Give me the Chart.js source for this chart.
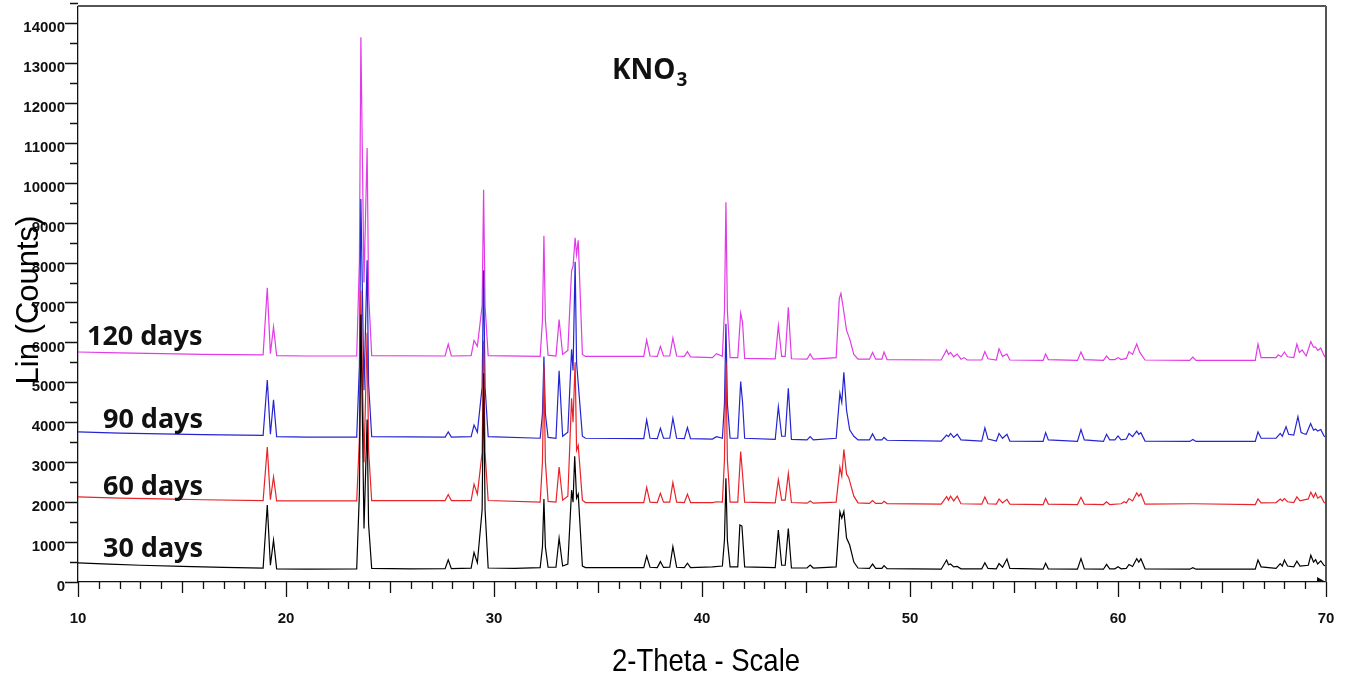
<!DOCTYPE html>
<html>
<head>
<meta charset="utf-8">
<title>KNO3 XRD</title>
<script src="https://cdn.jsdelivr.net/npm/chart.js@4.4.1/dist/chart.umd.min.js"></script>
<style>
  html, body { margin: 0; padding: 0; background: #fff; }
  #wrap { width: 1345px; height: 673px; }
</style>
</head>
<body>
<div id="wrap"><canvas id="xrd" width="1345" height="673"></canvas></div>
<script>
// axis ranges (2-theta in degrees, counts)
const thetaMin = 10, thetaMax = 70;
const countsMin = 0, countsMax = 14400;
const thetaTicks = [10, 20, 30, 40, 50, 60, 70];
const countTicks = [0, 1000, 2000, 3000, 4000, 5000, 6000, 7000, 8000, 9000, 10000, 11000, 12000, 13000, 14000];

const seriesNames = ["30 days", "60 days", "90 days", "120 days"];

// [2-theta, counts], one list per ageing time
const days30 = [
  [10,480],[11.5,450],[13,420],[15,390],[17,365],[18.9,350],
  [19.1,1930],[19.25,420],[19.4,1050],[19.55,330],
  [21,320],[23.4,330],[23.53,2250],[23.6,6700],[23.75,1340],[23.9,4070],[23.97,1450],[24.12,340],
  [26,330],[27.65,335],[27.8,555],[27.95,335],
  [28.9,345],[29.04,740],[29.2,480],[29.43,1810],[29.5,5220],[29.57,1810],[29.72,350],
  [31,340],[32.22,360],[32.33,880],[32.4,2080],[32.47,880],[32.6,370],[32.98,370],[33.13,1100],[33.3,400],[33.55,450],
  [33.73,2300],[33.8,2000],[33.88,3150],[33.97,2100],[34.05,2200],[34.25,400],[34.4,360],
  [37.2,360],[37.34,650],[37.5,370],[37.85,360],[38.0,510],[38.15,365],[38.45,370],[38.6,885],
  [38.78,370],[39.15,360],[39.3,470],[39.45,360],
  [40.5,380],[40.98,400],[41.08,1050],[41.15,2600],[41.22,1050],[41.35,380],[41.72,380],[41.82,1430],[41.92,1400],[42.05,380],
  [43.52,360],[43.67,1300],[43.83,420],[44.0,420],[44.15,1340],[44.3,350],
  [45.05,350],[45.2,425],[45.35,350],
  [46.45,380],[46.63,1760],[46.72,1600],[46.82,1770],[46.95,1100],[47.1,925],[47.3,500],[47.5,350],
  [48.05,340],[48.2,450],[48.35,340],[48.65,340],[48.75,410],[48.9,335],
  [51.5,320],[51.76,550],[51.85,430],[51.95,450],[52.1,380],[52.27,390],[52.45,330],
  [53.45,330],[53.6,480],[53.75,340],[54.15,330],[54.28,460],[54.45,370],[54.66,575],[54.8,340],
  [56.4,320],[56.52,470],[56.65,330],[58.05,320],[58.22,585],[58.38,330],
  [59.3,320],[59.45,440],[59.6,330],[59.85,330],[60.0,380],[60.15,330],[60.4,340],[60.53,440],
  [60.7,390],[60.9,585],[61.0,500],[61.1,580],[61.3,330],
  [63.45,320],[63.6,360],[63.75,320],[66.6,320],[66.73,550],[66.88,380],[67.6,340],[67.8,460],
  [67.9,400],[68.0,550],[68.15,400],[68.45,380],[68.6,520],[68.75,400],[69.15,420],[69.27,670],
  [69.4,500],[69.5,560],[69.6,450],[69.75,530],[69.9,420],[70,400]
];

const days60 = [
  [10,2130],[12,2100],[14,2080],[16,2060],[18.9,2040],
  [19.1,3380],[19.25,2060],[19.4,2630],[19.55,2030],
  [21,2030],[23.4,2030],[23.53,3610],[23.6,7300],[23.75,3000],[23.9,6240],[23.97,3300],[24.12,2040],
  [27.65,2040],[27.8,2190],[27.95,2040],
  [28.9,2040],[29.04,2450],[29.2,2200],[29.43,3240],[29.5,6050],[29.57,3240],[29.72,2040],
  [32.22,2000],[32.33,3020],[32.4,5400],[32.47,3020],[32.6,2020],[32.98,2000],[33.13,2880],[33.3,2050],[33.55,2150],
  [33.73,4600],[33.8,4000],[33.9,5500],[33.97,3300],[34.05,3420],[34.25,2050],[34.4,1990],
  [37.2,1990],[37.34,2370],[37.5,2000],[37.85,1990],[38.0,2220],[38.15,2000],[38.45,2000],[38.6,2490],
  [38.78,2000],[39.15,1990],[39.3,2200],[39.45,1990],
  [40.5,1990],[40.7,2010],[40.98,2000],[41.08,3060],[41.15,5520],[41.22,3060],[41.35,2000],[41.72,2000],[41.86,3270],[41.95,2700],[42.05,2000],
  [43.52,1980],[43.67,2560],[43.83,2050],[44.0,2050],[44.15,2720],[44.3,1990],
  [45.05,1975],[45.2,2030],[45.35,1975],
  [46.45,2000],[46.63,2870],[46.72,2650],[46.82,3320],[46.95,2700],[47.05,2620],[47.3,2150],[47.5,1980],
  [48.05,1970],[48.2,2040],[48.35,1970],[48.65,1970],[48.75,2020],[48.9,1965],
  [51.5,1950],[51.76,2140],[51.85,2050],[51.95,2150],[52.1,2030],[52.27,2150],[52.45,1960],
  [53.45,1950],[53.6,2130],[53.75,1960],[54.15,1950],[54.28,2080],[54.45,1980],[54.66,2070],[54.8,1950],
  [56.4,1940],[56.52,2090],[56.65,1950],[58.05,1940],[58.22,2120],[58.38,1950],
  [59.3,1940],[59.45,2010],[59.6,1940],[60.15,1960],[60.3,2010],[60.4,1980],[60.53,2090],
  [60.7,2030],[60.9,2230],[61.0,2150],[61.1,2210],[61.3,1950],
  [63.6,1960],[66.6,1940],[66.73,2080],[66.88,1980],[67.6,1990],[67.8,2080],[67.9,2030],[68.0,2090],
  [68.15,2010],[68.45,1990],[68.6,2130],[68.75,2030],[69.15,2080],[69.27,2250],[69.4,2120],
  [69.5,2230],[69.6,2100],[69.75,2150],[69.9,2000],[70,1960]
];

const days90 = [
  [10,3760],[12,3730],[14,3710],[16,3690],[18.9,3670],
  [19.1,5060],[19.25,3700],[19.4,4560],[19.55,3640],
  [21,3630],[23.4,3630],[23.53,5420],[23.6,9590],[23.75,4800],[23.9,8060],[23.97,4970],[24.12,3640],
  [27.65,3630],[27.8,3760],[27.95,3630],
  [28.9,3640],[29.04,3930],[29.2,3750],[29.43,4890],[29.5,7810],[29.57,4890],[29.72,3640],
  [32.22,3600],[32.33,4220],[32.4,5650],[32.47,4220],[32.6,3620],[32.98,3600],[33.13,5290],[33.3,3650],[33.55,3750],
  [33.73,5830],[33.8,5300],[33.9,8020],[33.97,5500],[34.05,4970],[34.25,3650],[34.4,3600],
  [37.2,3590],[37.34,4060],[37.5,3600],[37.85,3590],[38.0,3850],[38.15,3600],[38.45,3600],[38.6,4100],
  [38.78,3600],[39.15,3590],[39.3,3870],[39.45,3590],
  [40.5,3580],[40.7,3640],[40.98,3600],[41.08,4460],[41.15,6470],[41.22,4460],[41.35,3600],[41.72,3600],[41.86,5020],[41.95,4500],[42.05,3600],
  [43.52,3570],[43.67,4390],[43.83,3650],[44.0,3650],[44.15,4850],[44.3,3570],
  [45.05,3560],[45.2,3640],[45.35,3560],
  [46.45,3600],[46.63,4730],[46.72,4500],[46.82,5250],[46.95,4300],[47.1,3810],[47.3,3650],[47.5,3560],
  [48.05,3560],[48.2,3710],[48.35,3560],[48.65,3560],[48.75,3620],[48.9,3550],
  [51.5,3530],[51.76,3680],[51.85,3640],[51.95,3720],[52.1,3620],[52.27,3700],[52.45,3560],
  [53.45,3530],[53.6,3860],[53.75,3580],[54.15,3530],[54.28,3720],[54.45,3600],[54.66,3700],[54.8,3530],
  [56.4,3520],[56.52,3740],[56.65,3560],[58.05,3520],[58.22,3820],[58.38,3560],
  [59.3,3520],[59.45,3700],[59.6,3560],[59.85,3560],[60.0,3660],[60.15,3560],[60.4,3580],[60.53,3720],
  [60.7,3640],[60.9,3780],[61.0,3700],[61.1,3740],[61.3,3530],
  [63.45,3520],[63.6,3570],[63.75,3520],[66.6,3520],[66.73,3760],[66.88,3600],[67.6,3600],[67.8,3720],
  [67.9,3650],[68.08,3890],[68.2,3700],[68.45,3680],[68.65,4140],[68.8,3750],[68.9,3720],[69.05,3700],
  [69.26,3970],[69.4,3800],[69.5,3830],[69.6,3780],[69.75,3820],[69.9,3660],[70,3620]
];

const days120 = [
  [10,5760],[12,5740],[14,5720],[16,5700],[18.9,5690],
  [19.1,7370],[19.25,5720],[19.4,6390],[19.55,5670],
  [21,5660],[23.4,5660],[23.53,8050],[23.6,13640],[23.75,7500],[23.9,10870],[23.97,7230],[24.12,5670],
  [27.65,5660],[27.8,5960],[27.95,5660],
  [28.9,5670],[29.04,6050],[29.2,5900],[29.43,6920],[29.5,9820],[29.57,6920],[29.72,5670],
  [32.22,5650],[32.33,6560],[32.4,8670],[32.47,6560],[32.6,5680],[32.98,5660],[33.13,6570],[33.3,5700],[33.55,5800],
  [33.73,7800],[33.8,7900],[33.9,8620],[33.97,8200],[34.05,8560],[34.25,5700],[34.4,5650],
  [37.2,5650],[37.34,6060],[37.5,5660],[37.85,5650],[38.0,5900],[38.15,5660],[38.45,5660],[38.6,6110],
  [38.78,5660],[39.15,5650],[39.3,5770],[39.45,5640],
  [40.5,5620],[40.7,5720],[40.98,5650],[41.08,6790],[41.15,9510],[41.22,6790],[41.35,5620],[41.72,5620],[41.86,6730],[41.95,6500],[42.05,5600],
  [43.52,5590],[43.67,6420],[43.83,5650],[44.0,5650],[44.15,6880],[44.3,5590],
  [45.05,5580],[45.2,5710],[45.35,5580],
  [46.45,5620],[46.6,7100],[46.68,7230],[46.78,6900],[46.95,6300],[47.1,6090],[47.3,5700],[47.5,5580],
  [48.05,5580],[48.2,5750],[48.35,5580],[48.65,5580],[48.75,5760],[48.9,5570],
  [51.5,5560],[51.76,5810],[51.85,5700],[51.95,5750],[52.1,5640],[52.27,5710],[52.45,5580],[52.6,5620],[52.75,5560],
  [53.45,5560],[53.6,5770],[53.75,5590],[54.15,5560],[54.28,5840],[54.45,5650],[54.66,5710],[54.8,5560],
  [56.4,5550],[56.52,5710],[56.65,5570],[58.05,5550],[58.22,5760],[58.38,5570],
  [59.3,5550],[59.45,5660],[59.6,5570],[59.85,5570],[60.0,5620],[60.15,5570],[60.4,5600],[60.53,5770],
  [60.7,5700],[60.9,5960],[61.05,5750],[61.3,5560],
  [63.45,5550],[63.6,5630],[63.75,5550],[66.6,5550],[66.73,5960],[66.88,5620],[67.6,5620],[67.7,5690],
  [67.85,5640],[68.0,5760],[68.15,5640],[68.45,5620],[68.6,5960],[68.72,5750],[68.85,5810],[69.05,5660],
  [69.27,6020],[69.4,5880],[69.5,5880],[69.6,5800],[69.75,5860],[69.9,5680],[70,5600]
];

const lineColors = ["#000000", "#e8242a", "#2424d2", "#e23ae6"];

// where the "xx days" tags sit, in data units (left edge, vertical middle)
const tagAnchors = [[11.2, 826], [11.2, 2379], [11.2, 4058], [10.43, 6136]];

const axisFont = "'Liberation Sans', Arial, sans-serif";

const decorPlugin = {
  id: "decor",
  afterDraw(chart) {
    const { ctx, chartArea: area, scales: { x, y } } = chart;
    ctx.save();

    // frame on top and right
    ctx.strokeStyle = "#555";
    ctx.lineWidth = 2;
    ctx.beginPath();
    ctx.moveTo(area.left, area.top - 1);
    ctx.lineTo(area.right, area.top - 1);
    ctx.moveTo(area.right, area.top - 1);
    ctx.lineTo(area.right, area.bottom);
    ctx.stroke();

    // tick marks: long at 10s, medium at 5s, short every degree
    ctx.strokeStyle = "#111";
    ctx.lineWidth = 1.3;
    ctx.beginPath();
    for (let deg = thetaMin; deg <= thetaMax; deg++) {
      const px = Math.round(x.getPixelForValue(deg)) + 0.5;
      const len = deg % 10 === 0 ? 15 : deg % 5 === 0 ? 11 : 7;
      ctx.moveTo(px, area.bottom);
      ctx.lineTo(px, area.bottom + len);
    }
    countTicks.forEach((v) => {
      const py = Math.round(y.getPixelForValue(v)) + 0.5;
      ctx.moveTo(area.left - 13, py);
      ctx.lineTo(area.left, py);
      const pm = Math.round(y.getPixelForValue(v + 500)) + 0.5;
      ctx.moveTo(area.left - 8, pm);
      ctx.lineTo(area.left, pm);
    });
    ctx.stroke();

    // little arrow head at the end of the x axis
    ctx.fillStyle = "#111";
    ctx.beginPath();
    ctx.moveTo(area.right - 9, area.bottom - 5);
    ctx.lineTo(area.right, area.bottom);
    ctx.lineTo(area.right - 9, area.bottom);
    ctx.closePath();
    ctx.fill();

    // series tags
    ctx.fillStyle = "#111";
    ctx.font = "bold 27px 'Noto Sans', 'Liberation Sans', sans-serif";
    ctx.textAlign = "left";
    ctx.textBaseline = "middle";
    seriesNames.forEach((name, i) => {
      const [tx, ty] = tagAnchors[i];
      ctx.fillText(name, x.getPixelForValue(tx), y.getPixelForValue(ty));
    });

    // KNO3 title with subscript
    const titleX = x.getPixelForValue(35.67);
    const titleY = y.getPixelForValue(12600);
    ctx.textBaseline = "alphabetic";
    ctx.font = "bold 28px 'Noto Sans', 'Liberation Sans', sans-serif";
    ctx.fillText("KNO", titleX, titleY);
    const w = ctx.measureText("KNO").width;
    ctx.font = "bold 19px 'Noto Sans', 'Liberation Sans', sans-serif";
    ctx.fillText("3", titleX + w + 1, titleY + 7);

    // axis titles (the scan is slightly squeezed sideways)
    ctx.fillStyle = "#000";
    ctx.textAlign = "center";
    ctx.save();
    ctx.translate((area.left + area.right) / 2 + 4, 671);
    ctx.scale(0.86, 1);
    ctx.font = "32px " + axisFont;
    ctx.fillText("2-Theta - Scale", 0, 0);
    ctx.restore();

    ctx.translate(38, 300);
    ctx.rotate(-Math.PI / 2);
    ctx.font = "31px " + axisFont;
    ctx.fillText("Lin (Counts)", 0, 0);

    ctx.restore();
  },
};

const datasets = [days30, days60, days90, days120].map((pts, i) => ({
  label: seriesNames[i],
  data: pts,
  borderColor: lineColors[i],
  borderWidth: 1.2,
  pointRadius: 0,
  tension: 0,
  fill: false,
}));

new Chart(document.getElementById("xrd"), {
  type: "line",
  data: { datasets },
  plugins: [decorPlugin],
  options: {
    responsive: false,
    animation: false,
    layout: { padding: { top: 7, right: 19, left: 0, bottom: 0 } },
    plugins: { legend: { display: false }, tooltip: { enabled: false } },
    scales: {
      x: {
        type: "linear",
        min: thetaMin,
        max: thetaMax,
        grid: { display: false, drawTicks: false },
        border: { display: true, color: "#111", width: 1.3 },
        afterBuildTicks: (s) => { s.ticks = thetaTicks.map((v) => ({ value: v })); },
        ticks: {
          autoSkip: false,
          maxRotation: 0,
          padding: 28,
          color: "#111",
          font: { family: axisFont, size: 15, weight: "bold" },
          callback: (v) => String(v),
        },
        afterFit: (s) => {
          s.height = 91;
          s.paddingLeft = 0;
          s.paddingRight = 0;
        },
      },
      y: {
        min: countsMin,
        max: countsMax,
        grid: { display: false, drawTicks: false },
        border: { display: true, color: "#111", width: 1.3 },
        afterBuildTicks: (s) => { s.ticks = countTicks.map((v) => ({ value: v })); },
        ticks: {
          autoSkip: false,
          padding: 13,
          labelOffset: 5,
          color: "#111",
          font: { family: axisFont, size: 15, weight: "bold" },
          callback: (v) => String(v),
        },
        afterFit: (s) => {
          s.width = 78;
          s.paddingTop = 0;
          s.paddingBottom = 0;
        },
      },
    },
  },
});
</script>
</body>
</html>
